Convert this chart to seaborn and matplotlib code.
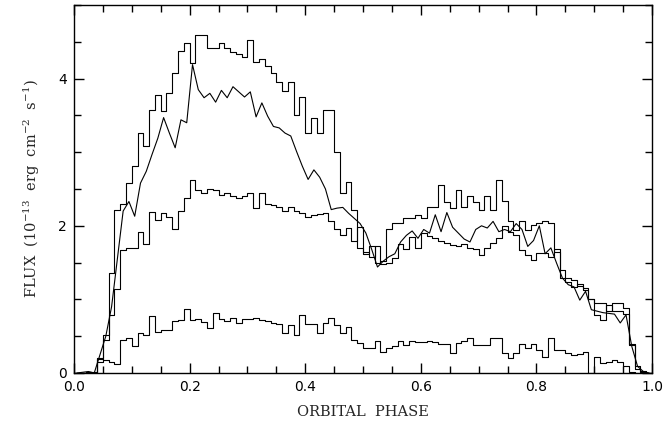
import numpy as np
import pandas as pd
import matplotlib
matplotlib.use("Agg")
import matplotlib.pyplot as plt
from matplotlib.ticker import MultipleLocator
import seaborn as sns

# orbital phase bins (left edges, width 0.01)
phase = np.round(np.arange(100) * 0.01, 2)

# upper histogram
flux_high = [
    0.00, 0.00, 0.02, 0.01, 0.20, 0.52, 1.36, 2.21, 2.30, 2.58,
    2.81, 3.26, 3.09, 3.58, 3.78, 3.56, 3.81, 4.08, 4.37, 4.48,
    4.21, 4.59, 4.59, 4.42, 4.42, 4.48, 4.42, 4.36, 4.33, 4.30,
    4.53, 4.22, 4.27, 4.17, 4.08, 3.96, 3.83, 3.96, 3.50, 3.75,
    3.26, 3.46, 3.26, 3.57, 3.58, 3.00, 2.45, 2.60, 2.22, 1.70,
    1.62, 1.72, 1.50, 1.52, 1.95, 2.04, 2.04, 2.10, 2.10, 2.14,
    2.10, 2.26, 2.26, 2.55, 2.33, 2.24, 2.48, 2.26, 2.40, 2.33,
    2.22, 2.41, 2.22, 2.62, 2.34, 2.06, 1.94, 2.06, 1.94, 2.01,
    2.04, 2.06, 2.04, 1.65, 1.29, 1.24, 1.17, 1.21, 1.15, 1.00,
    0.95, 0.95, 0.84, 0.95, 0.95, 0.88, 0.38, 0.09, 0.02, 0.00,
]

# middle histogram
flux_mid = [
    0.00, 0.00, 0.01, 0.00, 0.15, 0.45, 0.79, 1.14, 1.67, 1.70,
    1.70, 1.92, 1.75, 2.19, 2.08, 2.17, 2.12, 1.95, 2.20, 2.38,
    2.62, 2.49, 2.44, 2.50, 2.48, 2.42, 2.44, 2.41, 2.38, 2.40,
    2.44, 2.24, 2.44, 2.30, 2.28, 2.26, 2.20, 2.25, 2.20, 2.17,
    2.12, 2.14, 2.16, 2.18, 2.06, 1.95, 1.88, 1.97, 1.80, 1.98,
    1.65, 1.58, 1.72, 1.48, 1.50, 1.56, 1.75, 1.68, 1.85, 1.70,
    1.90, 1.86, 1.83, 1.79, 1.77, 1.74, 1.73, 1.75, 1.70, 1.68,
    1.60, 1.70, 1.77, 1.83, 2.00, 1.92, 1.88, 1.67, 1.60, 1.54,
    1.63, 1.63, 1.58, 1.68, 1.40, 1.29, 1.27, 1.18, 1.13, 1.00,
    0.79, 0.72, 0.93, 0.84, 0.84, 0.80, 0.40, 0.05, 0.03, 0.00,
]

# lower histogram
flux_low = [
    0.00, 0.00, 0.01, 0.00, 0.19, 0.17, 0.15, 0.12, 0.45, 0.47,
    0.37, 0.54, 0.52, 0.77, 0.56, 0.58, 0.58, 0.70, 0.72, 0.87,
    0.72, 0.74, 0.69, 0.61, 0.82, 0.74, 0.71, 0.75, 0.68, 0.74,
    0.74, 0.75, 0.72, 0.71, 0.68, 0.67, 0.54, 0.65, 0.52, 0.79,
    0.67, 0.66, 0.55, 0.68, 0.75, 0.65, 0.55, 0.62, 0.45, 0.41,
    0.34, 0.34, 0.44, 0.29, 0.34, 0.37, 0.44, 0.38, 0.43, 0.42,
    0.42, 0.43, 0.42, 0.40, 0.39, 0.27, 0.41, 0.44, 0.47, 0.38,
    0.38, 0.38, 0.47, 0.47, 0.27, 0.20, 0.27, 0.40, 0.34, 0.40,
    0.31, 0.22, 0.47, 0.31, 0.31, 0.27, 0.25, 0.26, 0.28, 0.00,
    0.22, 0.13, 0.15, 0.17, 0.15, 0.09, 0.02, 0.00, 0.00, 0.00,
]

# model curve, sampled at bin centres
flux_curve = [
    0.00, 0.01, 0.02, 0.00, 0.25, 0.50, 0.90, 1.55, 2.20, 2.33,
    2.13, 2.58, 2.74, 2.97, 3.19, 3.47, 3.26, 3.06, 3.44, 3.40,
    4.19, 3.85, 3.74, 3.80, 3.68, 3.84, 3.74, 3.89, 3.82, 3.75,
    3.82, 3.48, 3.67, 3.49, 3.35, 3.33, 3.26, 3.22, 3.01, 2.81,
    2.63, 2.76, 2.66, 2.50, 2.22, 2.24, 2.25, 2.17, 2.10, 2.03,
    1.90, 1.68, 1.44, 1.52, 1.58, 1.62, 1.78, 1.87, 1.93, 1.83,
    1.95, 1.90, 2.15, 1.92, 2.18, 1.98, 1.90, 1.82, 1.78, 1.95,
    2.00, 1.97, 2.06, 1.92, 1.95, 1.92, 2.03, 1.95, 1.72, 1.80,
    2.00, 1.62, 1.70, 1.49, 1.29, 1.20, 1.17, 0.99, 1.11, 0.86,
    0.84, 0.82, 0.81, 0.80, 0.68, 0.79, 0.36, 0.09, 0.02, 0.00,
]

sns.set_style("ticks")
plt.rcParams["font.family"] = ["DejaVu Sans"]
plt.rcParams["mathtext.fontset"] = "dejavuserif"

fig = plt.figure(figsize=(6.65, 4.24), dpi=100)
ax = fig.add_axes([0.1113, 0.1203, 0.8692, 0.8679])

# histograms: repeat last value at the right edge so the last bin is closed
edges = np.append(phase, 1.0)
for series in [flux_high, flux_mid, flux_low]:
    df = pd.DataFrame({"phase": edges, "flux": series + [series[-1]]})
    sns.lineplot(data=df, x="phase", y="flux", ax=ax, color="black",
                 linewidth=0.8, drawstyle="steps-post", estimator=None)

df_curve = pd.DataFrame({"phase": phase + 0.005, "flux": flux_curve})
sns.lineplot(data=df_curve, x="phase", y="flux", ax=ax, color="black",
             linewidth=0.8, estimator=None)

ax.set_xlim(0, 1)
ax.set_ylim(0, 5)
ax.xaxis.set_major_locator(MultipleLocator(0.2))
ax.xaxis.set_minor_locator(MultipleLocator(0.05))
ax.yaxis.set_major_locator(MultipleLocator(2))
ax.yaxis.set_minor_locator(MultipleLocator(0.5))
ax.set_yticks([0, 2, 4])
ax.set_yticklabels(["0", "2", "4"])
ax.set_xticks([0.0, 0.2, 0.4, 0.6, 0.8, 1.0])
ax.set_xticklabels(["0.0", "0.2", "0.4", "0.6", "0.8", "1.0"])

ax.tick_params(which="both", direction="in", top=True, right=True,
               labelsize=10, colors="black", width=1.0)
ax.tick_params(which="major", length=7.5, pad=5)
ax.tick_params(which="minor", length=4.8)
for s in ax.spines.values():
    s.set_linewidth(1.0)
    s.set_color("black")

ax.set_xlabel("ORBITAL  PHASE", fontsize=10.5, family="DejaVu Serif", labelpad=8)
ax.set_ylabel("FLUX  (10$^{-13}$  erg  cm$^{-2}$  s$^{-1}$)", fontsize=10.5,
              family="DejaVu Serif", labelpad=12)

fig.savefig("out.png", dpi=100)
